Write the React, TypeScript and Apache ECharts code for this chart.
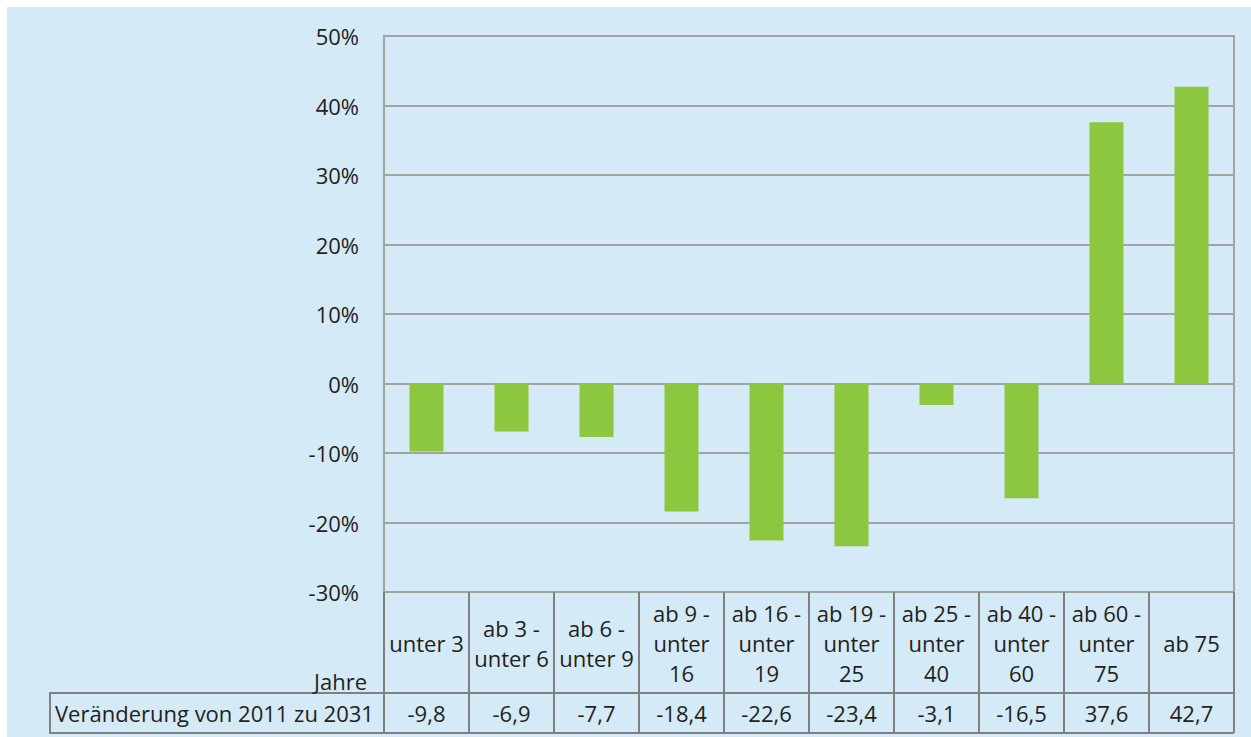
import React, { useEffect, useRef } from "react";
import * as echarts from "echarts";

const categories: string[] = [
  "unter 3",
  "ab 3 -\nunter 6",
  "ab 6 -\nunter 9",
  "ab 9 -\nunter\n16",
  "ab 16 -\nunter\n19",
  "ab 19 -\nunter\n25",
  "ab 25 -\nunter\n40",
  "ab 40 -\nunter\n60",
  "ab 60 -\nunter\n75",
  "ab 75",
];
const changes: number[] = [-9.8, -6.9, -7.7, -18.4, -22.6, -23.4, -3.1, -16.5, 37.6, 42.7];
const rowLabel = "Veränderung von 2011 zu 2031";
const axisTitle = "Jahre";

const FONT = "'Open Sans', 'DejaVu Sans', sans-serif";
const TEXT = "#231f20";
const GRID = "#a3a3a3";
const TABLE = "#808080";
const BG = "#d4eaf6";

export default function App() {
  const ref = useRef<HTMLDivElement>(null);
  useEffect(() => {
    if (!ref.current) return;
    const chart = echarts.init(ref.current, undefined, { renderer: "svg" });
    const fmt = (v: number) => v.toFixed(1).replace(".", ",");
    chart.setOption({
      animation: false,
      backgroundColor: BG,
      textStyle: { fontFamily: FONT },
      grid: {
        left: 377,
        top: 29,
        right: 17,
        bottom: 145,
        show: true,
        borderColor: GRID,
        borderWidth: 2,
        backgroundColor: "transparent",
      },
      xAxis: [
        {
          type: "category",
          data: categories,
          position: "bottom",
          axisLine: { show: false, onZero: false },
          axisTick: {
            show: true,
            alignWithLabel: false,
            interval: 0,
            length: 141,
            lineStyle: { color: TABLE, width: 2 },
          },
          axisLabel: {
            interval: 0,
            fontSize: 22,
            lineHeight: 30,
            color: TEXT,
            fontFamily: FONT,
            verticalAlign: "middle",
            margin: 51,
          },
        },
        {
          type: "category",
          data: categories,
          position: "bottom",
          axisLine: { show: false, onZero: false },
          axisTick: { show: false },
          axisLabel: {
            interval: 0,
            fontSize: 22,
            color: TEXT,
            fontFamily: FONT,
            verticalAlign: "middle",
            margin: 121,
            formatter: (_v: string, idx: number) => fmt(changes[idx]),
          },
        },
      ],
      yAxis: {
        type: "value",
        min: -30,
        max: 50,
        interval: 10,
        axisLine: { show: true, lineStyle: { color: GRID, width: 2 } },
        axisTick: { show: false },
        splitLine: { show: true, lineStyle: { color: GRID, width: 2 } },
        axisLabel: {
          formatter: "{value}%",
          fontSize: 22,
          color: TEXT,
          fontFamily: FONT,
          margin: 25,
        },
      },
      series: [
        {
          type: "bar",
          xAxisIndex: 0,
          data: changes,
          barWidth: "40%",
          itemStyle: { color: "#8dc63f" },
        },
      ],
      graphic: [
        {
          type: "line",
          shape: { x1: 377, y1: 686, x2: 1227, y2: 686 },
          style: { stroke: TABLE, lineWidth: 2 },
          z: 10,
        },
        {
          type: "line",
          shape: { x1: 377, y1: 726, x2: 1227, y2: 726 },
          style: { stroke: TABLE, lineWidth: 2 },
          z: 10,
        },
        {
          type: "rect",
          shape: { x: 43, y: 686, width: 334, height: 40 },
          style: { stroke: TABLE, lineWidth: 2, fill: "transparent" },
          z: 10,
        },
        {
          type: "text",
          x: 360,
          y: 674,
          style: {
            text: axisTitle,
            fontSize: 22,
            fontFamily: FONT,
            fill: TEXT,
            align: "right",
            verticalAlign: "middle",
          },
          z: 10,
        },
        {
          type: "text",
          x: 48,
          y: 706,
          style: {
            text: rowLabel,
            fontSize: 22,
            fontFamily: FONT,
            fill: TEXT,
            align: "left",
            verticalAlign: "middle",
          },
          z: 10,
        },
      ],
    });
    return () => chart.dispose();
  }, []);
  return (
    <div style={{ position: "fixed", left: 0, top: 0, width: 1251, height: 737, background: "#ffffff" }}>
      <div ref={ref} style={{ position: "absolute", left: 7, top: 7, width: 1244, height: 730 }} />
    </div>
  );
}
